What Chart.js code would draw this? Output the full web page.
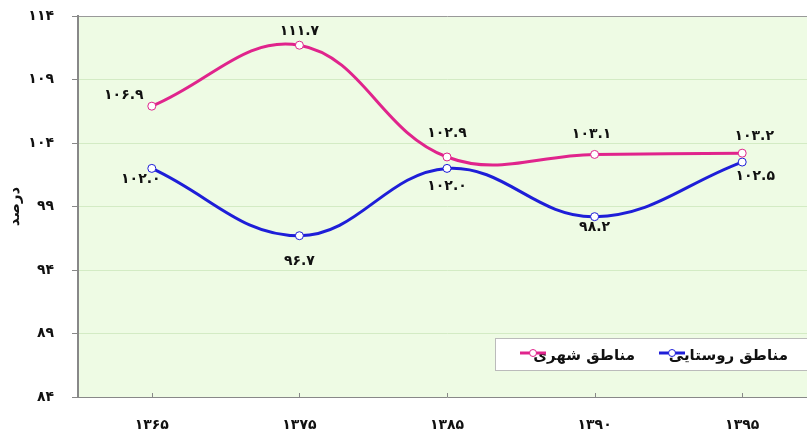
<!DOCTYPE html>
<html>
<head>
<meta charset="utf-8">
<script src="https://cdn.jsdelivr.net/npm/chart.js@4"></script>
<style>
  html, body { margin: 0; padding: 0; background: #fff; overflow: hidden; }
  #wrap { width: 830px; height: 437px; }
</style>
</head>
<body>
<div id="wrap"><canvas id="chart"></canvas></div>
<script>
const years = ["1365", "1375", "1385", "1390", "1395"];
const urban = [106.9, 111.7, 102.9, 103.1, 103.2];   // مناطق شهری
const rural = [102.0, 96.7, 102.0, 98.2, 102.5];     // مناطق روستایی
const yTicks = [84, 89, 94, 99, 104, 109, 114];

const PINK = "#e0248c";
const BLUE = "#1e1ed8";
const FONT = "'DejaVu Sans', sans-serif";

function fa(s) {
  return String(s).replace(/\d/g, d => "۰۱۲۳۴۵۶۷۸۹"[d]);
}

// label nudges relative to each point (dx, dy)
const urbanOffsets = [[-28, -11], [0, -14], [0, -24], [-3, -20], [12, -17]];
const ruralOffsets = [[-11, 11], [0, 26], [0, 18], [0, 11], [13, 14]];

const plotBg = {
  id: "plotBg",
  beforeDraw(chart) {
    const { ctx, chartArea: a } = chart;
    ctx.save();
    ctx.fillStyle = "#eefbe4";
    ctx.fillRect(a.left, a.top, a.right - a.left, a.bottom - a.top);
    ctx.restore();
  }
};

const xTicksInside = {
  id: "xTicksInside",
  afterDraw(chart) {
    const { ctx, chartArea: a } = chart;
    const xs = chart.scales.x;
    ctx.save();
    ctx.strokeStyle = "#888";
    ctx.lineWidth = 1;
    years.forEach((y, i) => {
      const px = Math.round(xs.getPixelForValue(i)) + 0.5;
      ctx.beginPath();
      ctx.moveTo(px, a.bottom);
      ctx.lineTo(px, a.bottom - 4);
      ctx.stroke();
    });
    ctx.restore();
  }
};

const valueLabels = {
  id: "valueLabels",
  afterDatasetsDraw(chart) {
    const { ctx } = chart;
    const offs = [urbanOffsets, ruralOffsets];
    ctx.save();
    ctx.font = "bold 14px " + FONT;
    ctx.fillStyle = "#111";
    ctx.textAlign = "center";
    ctx.textBaseline = "middle";
    chart.data.datasets.forEach((ds, di) => {
      chart.getDatasetMeta(di).data.forEach((pt, i) => {
        const [dx, dy] = offs[di][i];
        ctx.fillText(fa(ds.data[i].toFixed(1)), pt.x + dx, pt.y + dy);
      });
    });
    ctx.restore();
  }
};

const boxLegend = {
  id: "boxLegend",
  afterDraw(chart) {
    const { ctx } = chart;
    ctx.save();
    ctx.fillStyle = "#fff";
    ctx.strokeStyle = "#bbb";
    ctx.lineWidth = 1;
    ctx.fillRect(495.5, 338.5, 330, 32);
    ctx.strokeRect(495.5, 338.5, 330, 32);
    ctx.font = "bold 15px " + FONT;
    ctx.fillStyle = "#111";
    ctx.textAlign = "right";
    ctx.textBaseline = "middle";
    const items = [
      { text: "مناطق روستایی", color: BLUE, right: 788, mark: 672 },
      { text: "مناطق شهری", color: PINK, right: 635, mark: 533 }
    ];
    items.forEach(it => {
      ctx.fillText(it.text, it.right, 356);
      ctx.strokeStyle = it.color;
      ctx.lineWidth = 3;
      ctx.beginPath();
      ctx.moveTo(it.mark - 13, 353);
      ctx.lineTo(it.mark + 13, 353);
      ctx.stroke();
      ctx.fillStyle = "#fff";
      ctx.lineWidth = 1;
      ctx.beginPath();
      ctx.arc(it.mark, 353, 3.5, 0, Math.PI * 2);
      ctx.fill();
      ctx.stroke();
      ctx.fillStyle = "#111";
    });
    ctx.restore();
  }
};

new Chart(document.getElementById("chart"), {
  type: "line",
  data: {
    labels: years,
    datasets: [
      {
        label: "مناطق شهری",
        data: urban,
        borderColor: PINK,
        borderWidth: 3,
        tension: 0.4,
        pointRadius: 4,
        pointBackgroundColor: "#fff",
        pointBorderColor: PINK,
        pointBorderWidth: 1
      },
      {
        label: "مناطق روستایی",
        data: rural,
        borderColor: BLUE,
        borderWidth: 3,
        tension: 0.4,
        pointRadius: 4,
        pointBackgroundColor: "#fff",
        pointBorderColor: BLUE,
        pointBorderWidth: 1
      }
    ]
  },
  options: {
    responsive: true,
    maintainAspectRatio: false,
    animation: false,
    layout: { padding: { top: 16, right: 14, left: 0, bottom: 0 } },
    plugins: {
      legend: { display: false },
      tooltip: { enabled: false }
    },
    scales: {
      x: {
        offset: true,
        grid: { display: false },
        border: { color: "#888", width: 1 },
        ticks: {
          padding: 12,
          color: "#111",
          font: { family: FONT, size: 14, weight: "bold" },
          callback: (v, i) => fa(years[i])
        },
        afterFit(s) { s.height = 40; }
      },
      y: {
        min: 84,
        max: 114,
        afterBuildTicks(s) { s.ticks = yTicks.map(v => ({ value: v })); },
        grid: {
          color: ctx => (ctx.tick && ctx.tick.value === 114) ? "#999" : "#d3ebc4",
          tickColor: "#888",
          tickLength: 6
        },
        border: { color: "#888", width: 2 },
        ticks: {
          padding: 18,
          color: "#111",
          font: { family: FONT, size: 14, weight: "bold" },
          callback: v => fa(v)
        },
        title: {
          display: true,
          text: "درصد",
          color: "#111",
          font: { family: FONT, size: 15, weight: "bold" },
          padding: { top: 6, bottom: 0 }
        },
        afterFit(s) {
          s.width = 78;
          s.paddingTop = 0;
          s.paddingBottom = 0;
        }
      }
    }
  },
  plugins: [plotBg, xTicksInside, valueLabels, boxLegend]
});
</script>
</body>
</html>
